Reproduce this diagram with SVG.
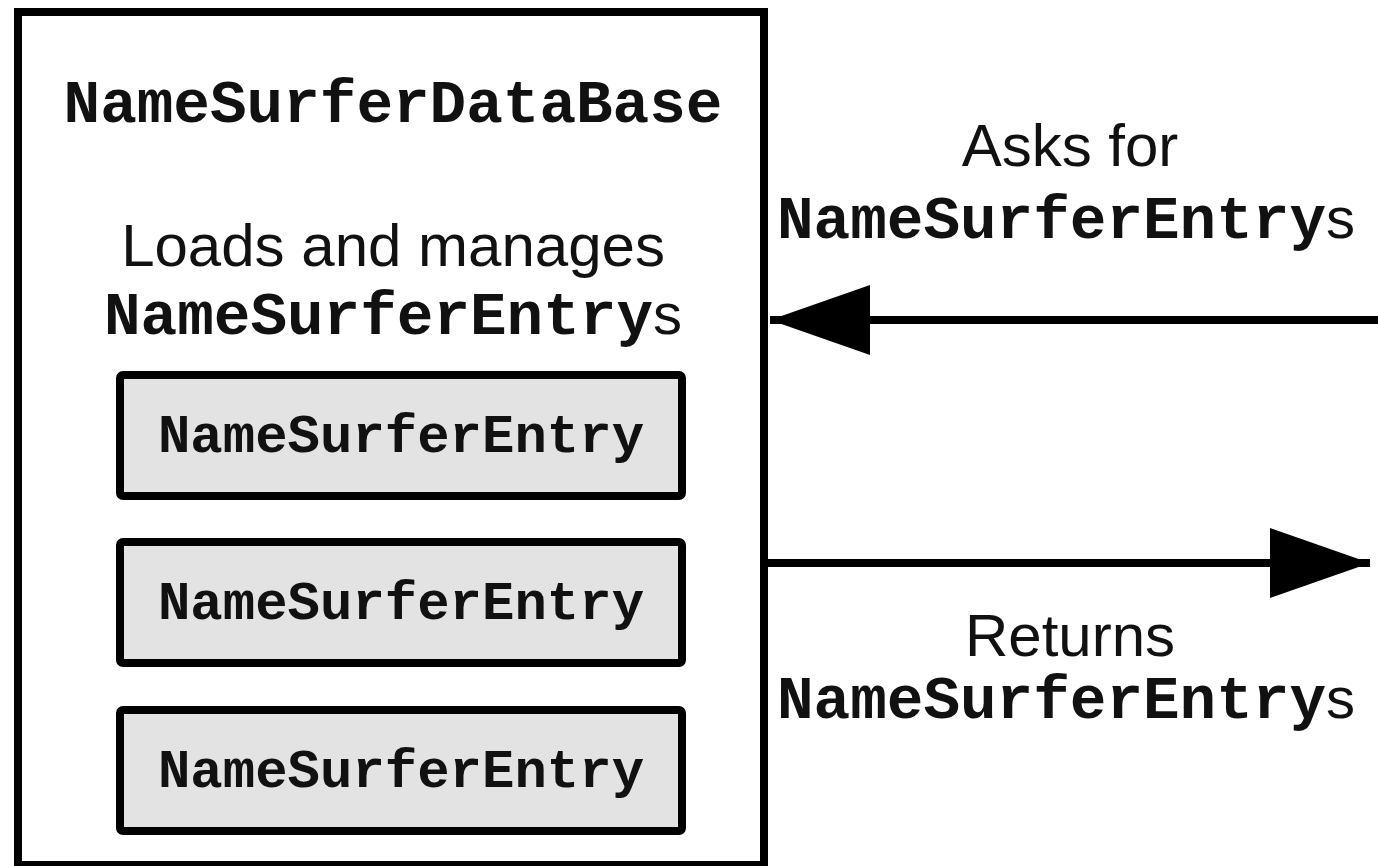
<svg xmlns="http://www.w3.org/2000/svg" width="1378" height="866" viewBox="0 0 1378 866">
<style>
.box{fill:#fff;stroke:#000;stroke-width:8}
.entry{fill:#e3e3e3;stroke:#000;stroke-width:8}
.mono{font-family:"Liberation Mono","Courier New",monospace;font-weight:bold;fill:#111}
.sans{font-family:"Liberation Sans",Arial,sans-serif;fill:#111}
.line{stroke:#000;stroke-width:8;fill:none}
</style>
<defs>
<marker id="ah" markerWidth="100" markerHeight="70" refX="100" refY="35" orient="auto" markerUnits="userSpaceOnUse">
<path d="M0,0 L100,35 L0,70 Z" fill="#000"/>
</marker>
</defs>
<rect width="1378" height="866" fill="#fff"/>
<g id="database">
<rect class="box" x="18" y="12" width="746" height="853"/>
<text class="mono" x="393" y="122" font-size="61" text-anchor="middle">NameSurferDataBase</text>
<text class="sans" x="393" y="266" font-size="60" text-anchor="middle">Loads and manages</text>
<text class="mono" x="393" y="334" font-size="61" text-anchor="middle">NameSurferEntry<tspan class="sans" font-weight="normal" font-size="58">s</tspan></text>
</g>
<g id="entry1">
<rect class="entry" x="120" y="375" width="562" height="121" rx="3"/>
<text class="mono" x="401" y="452" font-size="54" text-anchor="middle">NameSurferEntry</text>
</g>
<g id="entry2">
<rect class="entry" x="120" y="542" width="562" height="121" rx="3"/>
<text class="mono" x="401" y="619" font-size="54" text-anchor="middle">NameSurferEntry</text>
</g>
<g id="entry3">
<rect class="entry" x="120" y="710" width="562" height="121" rx="3"/>
<text class="mono" x="401" y="787" font-size="54" text-anchor="middle">NameSurferEntry</text>
</g>
<g id="connectors">
<line class="line" x1="1378" y1="320" x2="770" y2="320" marker-end="url(#ah)"/>
<line class="line" x1="764" y1="563" x2="1370" y2="563" marker-end="url(#ah)"/>
</g>
<g id="labels">
<text class="sans" x="1070" y="166" font-size="60" text-anchor="middle">Asks for</text>
<text class="mono" x="1066" y="238" font-size="61" text-anchor="middle">NameSurferEntry<tspan class="sans" font-weight="normal" font-size="58">s</tspan></text>
<text class="sans" x="1070" y="656" font-size="60" text-anchor="middle">Returns</text>
<text class="mono" x="1066" y="718" font-size="61" text-anchor="middle">NameSurferEntry<tspan class="sans" font-weight="normal" font-size="58">s</tspan></text>
</g>
</svg>
